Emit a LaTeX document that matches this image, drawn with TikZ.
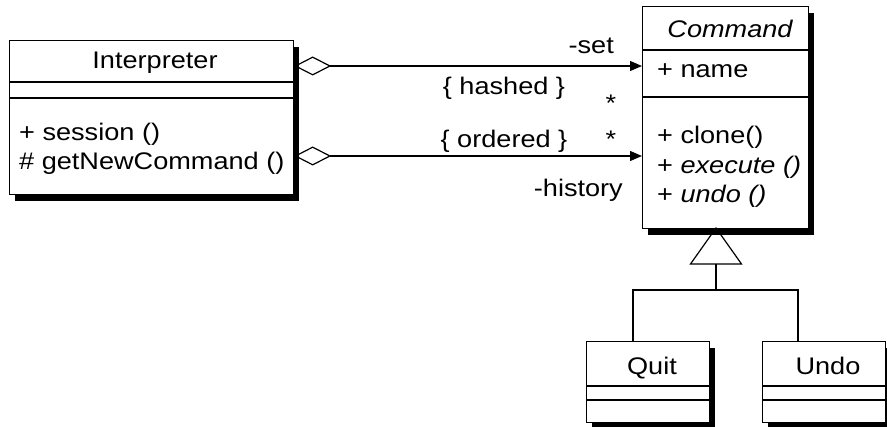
\documentclass[tikz,border=0pt]{standalone}
\usepackage{fontspec}
\setmainfont[FakeStretch=1.13]{Liberation Sans}
\usetikzlibrary{arrows.meta,shadows,calc}
\begin{document}
\begin{tikzpicture}[x=1pt,y=-1pt,
  cls/.style={draw, line width=1.2pt, fill=white, inner sep=0pt, anchor=north west,
    general shadow={fill=black, shadow xshift=5pt, shadow yshift=-6pt}},
  txt/.style={inner sep=0pt, font=\fontsize{24}{28}\selectfont, anchor=base},
  member/.style={txt, anchor=base west},
  sep/.style={line width=1.2pt},
  link/.style={line width=1.2pt},
  assoc/.style={link, {Diamond[open,length=37pt,width=19pt,line width=1.2pt]}-{Triangle[length=12pt,width=10pt]}}]
\useasboundingbox (0,0) rectangle (887,427);

% class boxes
\node[cls, minimum width=284pt, minimum height=154pt] (interp) at (9,40) {};
\node[cls, minimum width=166pt, minimum height=222pt] (cmd) at (642,6) {};
\node[cls, minimum width=123pt, minimum height=81pt] (quit) at (586,341) {};
\node[cls, minimum width=123pt, minimum height=81pt] (undo) at (762,341) {};

% compartment separators
\draw[sep] ($(interp.north west)+(0,42)$) -- ($(interp.north east)+(0,42)$);
\draw[sep] ($(interp.north west)+(0,58)$) -- ($(interp.north east)+(0,58)$);
\draw[sep] ($(cmd.north west)+(0,44)$) -- ($(cmd.north east)+(0,44)$);
\draw[sep] ($(cmd.north west)+(0,91)$) -- ($(cmd.north east)+(0,91)$);
\foreach \c in {quit,undo}{
  \draw[sep] ($(\c.north west)+(0,45)$) -- ($(\c.north east)+(0,45)$);
  \draw[sep] ($(\c.north west)+(0,59)$) -- ($(\c.north east)+(0,59)$);
}

% class texts
\node[txt] (tInterp) at (155,69) {Interpreter};
\node[member] (tSession) at (19,141) {+ session ()};
\node[member] (tGetNew) at (19,170) {\# getNewCommand ()};
\node[txt] (tCmd) at (730,38) {\itshape Command};
\node[member] (tName) at (657,78) {+ name};
\node[member] (tClone) at (657,144) {+ clone()};
\node[member] (tExec) at (657,174) {+ \itshape execute ()};
\node[member] (tUndoOp) at (657,203) {+ \itshape undo ()};
\node[txt] (tQuit) at (652,375) {Quit};
\node[txt] (tUndo) at (828,375) {Undo};

% aggregations
\coordinate (setY) at (0,66);
\coordinate (histY) at (0,156);
\draw[assoc] (interp.east |- setY) -- (cmd.west |- setY);
\draw[assoc] (interp.east |- histY) -- (cmd.west |- histY);

\node[txt, anchor=base east] (lSet) at (614,54) {-set};
\node[txt] (lHashed) at (504,95) {\{ hashed \}};
\node[txt] (mSet) at (611,112) {*};
\node[txt] (lOrdered) at (504,148) {\{ ordered \}};
\node[txt] (mHist) at (611,148) {*};
\node[txt, anchor=base east] (lHist) at (623,197) {-history};

% generalization
\coordinate (apex) at (716,228);
\coordinate (triL) at (690.5,264);
\coordinate (triR) at (741.5,264);
\coordinate (triB) at (716,264);
\coordinate (junc) at (716,290);
\coordinate (qTop) at (633,341);
\coordinate (uTop) at (798,341);
\draw[link] (apex) -- (triL) -- (triR) -- cycle;
\draw[link] (triB) -- (junc);
\draw[link] (qTop) -- (qTop |- junc) -- (uTop |- junc) -- (uTop);
\end{tikzpicture}
\end{document}
